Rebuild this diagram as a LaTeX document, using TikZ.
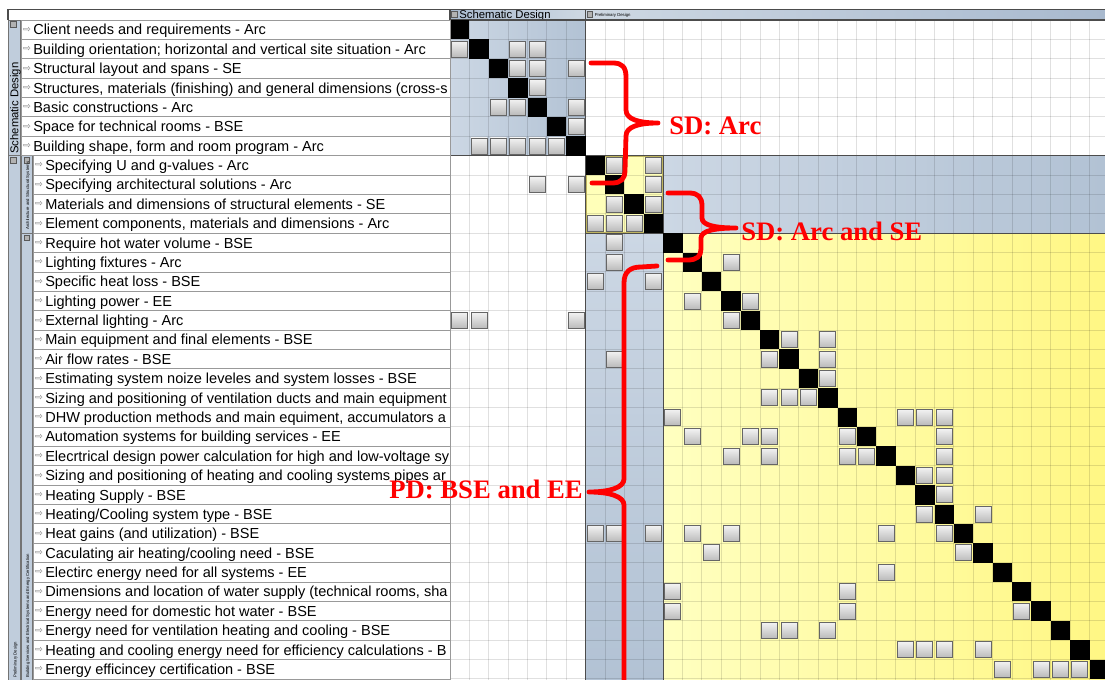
\documentclass[tikz,border=0pt]{standalone}
\usepackage{fontspec}
\setmainfont{Liberation Sans}
\newfontfamily\bracefont{Liberation Serif}
\newfontfamily\arrowfont{DejaVu Sans}

\definecolor{sdlight}{RGB}{204,215,228}
\definecolor{sddark}{RGB}{178,194,212}
\definecolor{pdlight}{RGB}{255,255,192}
\definecolor{pddark}{RGB}{255,247,132}
\definecolor{asyellow}{RGB}{255,255,185}
\definecolor{asborder}{RGB}{190,180,95}
\definecolor{stripblue}{RGB}{192,205,220}
\definecolor{headdark}{RGB}{168,185,206}
\definecolor{headlight}{RGB}{206,216,227}
\definecolor{bracered}{RGB}{255,0,0}

\def\cs{19.38}
\def\mx{450}
\def\my{20}

\begin{document}
\begin{tikzpicture}[x=0.75pt,y=-0.75pt]
    \tikzstyle{gridline}=[draw=black,opacity=0.12,line width=0.75pt]
    \tikzstyle{groupline}=[draw=black!70,line width=0.8pt]
    \tikzstyle{dep}=[draw=black!60,line width=0.7pt,top color=black!5,bottom color=black!27]
    \tikzstyle{labelbox}=[draw=black!40,fill=white,line width=0.6pt]
    \tikzstyle{rowlabel}=[anchor=base west,inner sep=0pt,font=\fontsize{10.9}{12}\selectfont]
    \tikzstyle{rowarrow}=[inner sep=0pt,text=black!50,font=\arrowfont\fontsize{7}{8}\selectfont]
    \tikzstyle{strip}=[draw=black!55,fill=stripblue,line width=0.6pt]
    \tikzstyle{iconbox}=[draw=black!65,fill=black!30,line width=0.5pt]
    \tikzstyle{headtext}=[anchor=base west,inner sep=0pt,font=\fontsize{8.5}{9}\selectfont]
    \tikzstyle{tinytext}=[anchor=base west,inner sep=0pt,font=\fontsize{3.2}{3.5}\selectfont]
    \tikzstyle{redbrace}=[draw=bracered,line width=3.6pt,line cap=round,line join=round]
    \tikzstyle{bracelabel}=[inner sep=0pt,text=bracered,font=\bracefont\bfseries\fontsize{20}{22}\selectfont]

    \useasboundingbox (0,0) rectangle (1105,680);
    \fill[white] (0,0) rectangle (1105,680);

    % block backgrounds
    \shade[left color=sdlight,right color=sddark] (\mx,\my) rectangle ({\mx+7*\cs},{\my+7*\cs});
    \shade[left color=sdlight,right color=sddark] ({\mx+11*\cs},{\my+7*\cs}) rectangle (1105,{\my+11*\cs});
    \shade[top color=sdlight,bottom color=sddark] ({\mx+7*\cs},{\my+11*\cs}) rectangle ({\mx+11*\cs},680);
    \fill[asyellow] ({\mx+7*\cs},{\my+7*\cs}) rectangle ({\mx+11*\cs},{\my+11*\cs});
    \shade[left color=pdlight,right color=pddark] ({\mx+11*\cs},{\my+11*\cs}) rectangle (1105,680);

    % grid
    \foreach \i in {0,...,34} {
        \draw[gridline] ({\mx+\i*\cs},\my) -- ({\mx+\i*\cs},680);
        \draw[gridline] (\mx,{\my+\i*\cs}) -- (1105,{\my+\i*\cs});
    }

    % header bar
    \shade[left color=headdark,right color=headlight] (\mx,10) rectangle ({\mx+7*\cs},\my);
    \shade[left color=headlight,right color=headdark] ({\mx+7*\cs},10) rectangle (1105,\my);
    \filldraw[iconbox] (451.5,11.5) rectangle (457,17.5);
    \filldraw[iconbox] (587,11.5) rectangle (592.5,17.5);
    \node[headtext] (sdhead) at (459,18.3) {Schematic Design};
    \node[tinytext] (pdhead) at (594.5,16.3) {Preliminary Design};

    % group borders
    \draw[groupline] (8,\my) -- (8,9.5) -- (1105,9.5);
    \draw[groupline] (\mx,\my) -- (1105,\my);
    \draw[groupline] (\mx,10) -- (\mx,680);
    \draw[groupline] ({\mx+7*\cs},10) -- ({\mx+7*\cs},680);
    \draw[groupline] (\mx,{\my+7*\cs}) -- (1105,{\my+7*\cs});
    \draw[groupline] ({\mx+11*\cs},{\my+7*\cs}) -- ({\mx+11*\cs},680);
    \draw[groupline] ({\mx+7*\cs},{\my+11*\cs}) -- (1105,{\my+11*\cs});
    \draw[draw=asborder,line width=0.8pt] ({\mx+7*\cs+0.8},{\my+7*\cs+0.8}) rectangle ({\mx+11*\cs-0.8},{\my+11*\cs-0.8});

    % diagonal
    \foreach \i in {1,...,34}
        \fill[black] ({\mx+(\i-1)*\cs},{\my+(\i-1)*\cs}) rectangle ++(\cs,\cs);

    % dependencies (row/column)
    \foreach \r/\c in {2/1,2/4,2/5,3/4,3/5,3/7,4/5,5/3,5/4,5/7,6/7,7/2,7/3,7/4,7/5,7/6,
        8/9,8/11,9/5,9/7,9/11,10/9,10/11,11/8,11/9,11/10,
        12/9,13/9,13/15,14/8,14/11,15/13,15/16,16/1,16/2,16/7,16/15,
        17/18,17/20,18/9,18/17,18/20,19/20,20/17,20/18,20/19,
        21/12,21/24,21/25,21/26,22/13,22/16,22/17,22/21,22/26,
        23/15,23/17,23/21,23/22,23/26,24/25,24/26,25/26,26/25,26/28,
        27/8,27/9,27/11,27/13,27/15,27/23,27/26,28/14,28/27,29/23,
        30/12,30/21,31/12,31/21,31/30,32/17,32/18,32/20,
        33/24,33/25,33/26,33/28,34/29,34/31,34/32,34/33}
        \shadedraw[dep] ({\mx+(\c-1)*\cs+1.7},{\my+(\r-1)*\cs+1.7}) rectangle ++(16,16);

    % side strips
    \filldraw[strip] (8,\my) rectangle (20.5,{\my+7*\cs});
    \filldraw[strip] (8,{\my+7*\cs}) rectangle (20.5,680);
    \filldraw[strip] (21,{\my+7*\cs}) rectangle (32.7,{\my+11*\cs});
    \filldraw[strip] (21,{\my+11*\cs}) rectangle (32.7,680);
    \filldraw[iconbox] (10.5,21.5) rectangle (16,27);
    \filldraw[iconbox] (10.5,{\my+7*\cs+2}) rectangle (16,{\my+7*\cs+7.5});
    \filldraw[iconbox] (24,{\my+7*\cs+2}) rectangle (29.5,{\my+7*\cs+7.5});
    \filldraw[iconbox] (24,{\my+11*\cs+2}) rectangle (29.5,{\my+11*\cs+7.5});
    \node[headtext,rotate=90] (sdstrip) at (18.3,154) {Schematic Design};
    \node[tinytext,rotate=90] (pdstrip) at (16.5,678) {Preliminary Design};
    \node[tinytext,rotate=90] (asstrip) at (29,230) {Architecture and Structural Systems};
    \node[tinytext,rotate=90] (bsstrip) at (29,678) {Building Services and Electrical Systems and Energy Certification};

    % row labels
    \foreach \r in {1,...,7}
        \filldraw[labelbox] (21,{\my+(\r-1)*\cs}) rectangle (\mx,{\my+\r*\cs});
    \foreach \r in {8,...,34}
        \filldraw[labelbox] (33,{\my+(\r-1)*\cs}) rectangle (\mx,{\my+\r*\cs});
    \begin{scope}
        \clip (21,\my) rectangle (449.5,680);
        \foreach \r/\txt in {1/{Client needs and requirements - Arc},
            2/{Building orientation; horizontal and vertical site situation - Arc},
            3/{Structural layout and spans - SE},
            4/{Structures, materials (finishing) and general dimensions (cross-s},
            5/{Basic constructions - Arc},
            6/{Space for technical rooms - BSE},
            7/{Building shape, form and room program - Arc}} {
            \node[rowarrow] (arr\r) at (27,{\my+(\r-0.5)*\cs}) {⇨};
            \node[rowlabel] (lab\r) at (33,{\my+(\r-0.5)*\cs+5.2}) {\txt};
        }
        \foreach \r/\txt in {8/{Specifying U and g-values - Arc},
            9/{Specifying architectural solutions - Arc},
            10/{Materials and dimensions of structural elements - SE},
            11/{Element components, materials and dimensions - Arc},
            12/{Require hot water volume - BSE},
            13/{Lighting fixtures - Arc},
            14/{Specific heat loss - BSE},
            15/{Lighting power - EE},
            16/{External lighting - Arc},
            17/{Main equipment and final elements - BSE},
            18/{Air flow rates - BSE},
            19/{Estimating system noize leveles and system losses - BSE},
            20/{Sizing and positioning of ventilation ducts and main equipment},
            21/{DHW production methods and main equiment, accumulators a},
            22/{Automation systems for building services - EE},
            23/{Elecrtrical design power calculation for high and low-voltage sy},
            24/{Sizing and positioning of heating and cooling systems pipes ar},
            25/{Heating Supply - BSE},
            26/{Heating/Cooling system type - BSE},
            27/{Heat gains (and utilization) - BSE},
            28/{Caculating air heating/cooling need - BSE},
            29/{Electirc energy need for all systems - EE},
            30/{Dimensions and location of water supply (technical rooms, sha},
            31/{Energy need for domestic hot water - BSE},
            32/{Energy need for ventilation heating and cooling - BSE},
            33/{Heating and cooling energy need for efficiency calculations - B},
            34/{Energy efficincey certification - BSE}} {
            \node[rowarrow] (arr\r) at (39,{\my+(\r-0.5)*\cs}) {⇨};
            \node[rowlabel] (lab\r) at (45,{\my+(\r-0.5)*\cs+5.2}) {\txt};
        }
    \end{scope}

    % braces and their labels
    \node[bracelabel,anchor=west] (sdarc) at (669,126) {SD: Arc};
    \node[bracelabel,anchor=west] (sdse) at (741,231) {SD: Arc and SE};
    \node[bracelabel,anchor=east] (pdee) at (583,489) {PD: BSE and EE};

    \coordinate (sdarctop) at (591,63);
    \coordinate (sdarctip) at (658,123);
    \coordinate (sdarcbot) at (592,183);
    \coordinate (sdsetop) at (668,193);
    \coordinate (sdsetip) at (736,228);
    \coordinate (sdsebot) at (668,260);
    \coordinate (pdtop) at (657,266);
    \coordinate (pdtip) at (589,492);
    \coordinate (pdbot) at (624,688);

    \draw[redbrace] (sdarctop) -- (613,63) .. controls (622,63) and (626,67) .. (626,77) -- (626,110)
        .. controls (626,119) and (638,123) .. (sdarctip) .. controls (638,123) and (626,127) .. (626,136)
        -- (625,170) .. controls (625,179) and (621,183) .. (612,183) -- (sdarcbot);
    \draw[redbrace] (sdsetop) -- (689,193) .. controls (698,193) and (702,197) .. (702,206) -- (702,218)
        .. controls (702,225) and (714,228) .. (sdsetip) .. controls (714,228) and (701,231) .. (701,238)
        -- (701,249) .. controls (701,256) and (697,260) .. (688,260) -- (sdsebot);
    \draw[redbrace] (pdtop) -- (641,267) .. controls (630,267) and (624,272) .. (624,283) -- (624,479)
        .. controls (624,487) and (611,492) .. (pdtip) .. controls (611,492) and (624,497) .. (624,505)
        -- (pdbot);
\end{tikzpicture}
\end{document}
